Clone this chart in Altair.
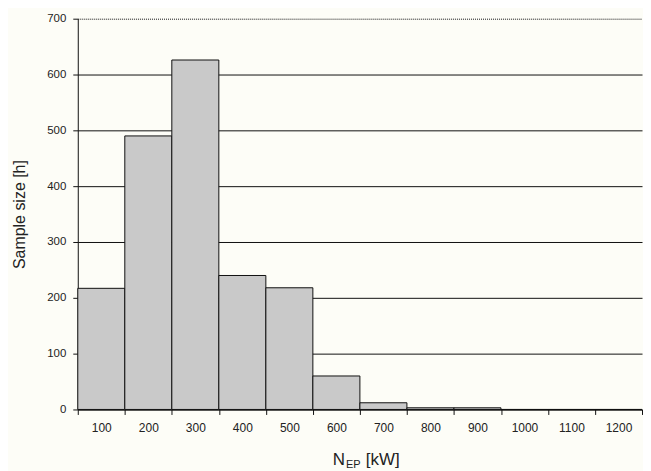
import altair as alt
import pandas as pd

categories = ["100", "200", "300", "400", "500", "600", "700", "800", "900", "1000", "1100", "1200"]
values = [217, 490, 626, 240, 218, 60, 12, 3, 3, 0, 0, 0]

df = pd.DataFrame({"cat": categories, "val": values})

FONT = "Liberation Sans"
W, H = 566, 392

bars = alt.Chart(df).mark_bar(
    fill="#c9c9c9", stroke="#111111", strokeWidth=1, opacity=1
).encode(
    x=alt.X("cat:N", sort=categories,
            scale=alt.Scale(paddingInner=0, paddingOuter=0),
            axis=alt.Axis(title=None, labelAngle=0, tickBand="extent",
                          domainColor="#111111", tickColor="#111111",
                          tickSize=5, labelPadding=8, labelFontSize=12,
                          labelColor="#222222", labelFont=FONT, grid=False)),
    y=alt.Y("val:Q",
            scale=alt.Scale(domain=[0, 700], nice=False),
            axis=alt.Axis(title="Sample size [h]", values=list(range(0, 701, 100)),
                          grid=True, gridColor="#111111", gridWidth=1, gridOpacity=1,
                          gridDash=alt.condition(alt.datum.value == 700, alt.value([1, 1]), alt.value([])),
                          domainColor="#111111", tickColor="#111111", tickSize=5,
                          labelFontSize=11.5, labelColor="#222222", labelFont=FONT,
                          labelPadding=7,
                          titleFont=FONT, titleFontSize=16, titleFontWeight="normal",
                          titleColor="#222222", titlePadding=19)),
)

t_n = alt.Chart(pd.DataFrame({"t": ["N"]})).mark_text(font=FONT, fontSize=17, align="right", baseline="alphabetic", color="#222222").encode(
    text="t:N", x=alt.value(268), y=alt.value(448))
t_sub = alt.Chart(pd.DataFrame({"t": ["EP"]})).mark_text(font=FONT, fontSize=11, align="left", baseline="alphabetic", color="#222222").encode(
    text="t:N", x=alt.value(269), y=alt.value(451))
t_kw = alt.Chart(pd.DataFrame({"t": ["[kW]"]})).mark_text(font=FONT, fontSize=17, align="left", baseline="alphabetic", color="#222222").encode(
    text="t:N", x=alt.value(289), y=alt.value(448))

chart = alt.layer(bars, t_n, t_sub, t_kw).properties(
    width=W, height=H, background="#fdfdf7",
    padding={"left": 3, "top": 4, "right": 0, "bottom": 0}
).configure_view(stroke=None)

chart.save("out.html", embed_options={"renderer": "svg", "actions": False})
